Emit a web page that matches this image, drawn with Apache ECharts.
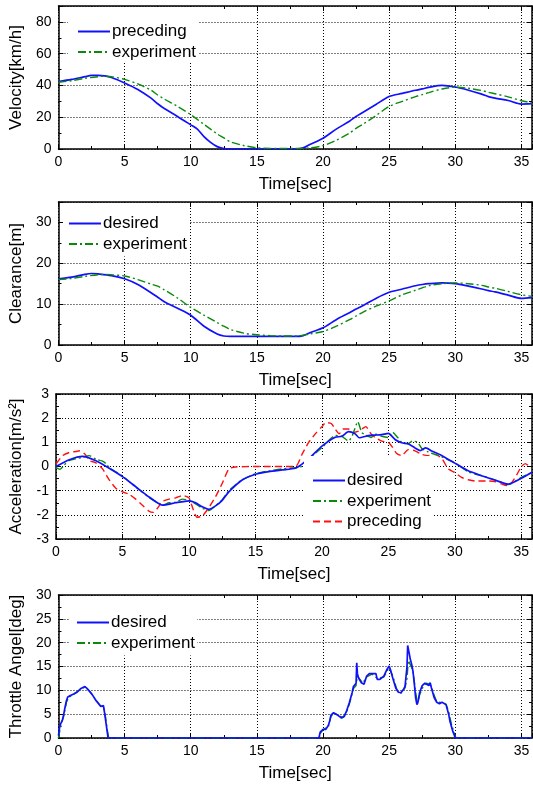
<!DOCTYPE html>
<html>
<head>
<meta charset="utf-8">
<script src="https://cdn.jsdelivr.net/npm/echarts@6/dist/echarts.min.js"></script>
<style>
html,body{margin:0;padding:0;background:#fff;}
#chart{width:533px;height:787px;}
</style>
</head>
<body>
<div id="chart"></div>
<script>
// ---------- Panel 1: Velocity [km/h] ----------
const velPrecT = [0,1,2,2.5,3,3.5,4,5,6,7,7.5,8,9,10,10.5,11,11.5,12,12.5,13,18,18.5,19,20,21,22,22.5,23,24,25,26,27,27.5,28,29,30,31,32,32.5,33,34,35,35.8];
const velPrecV = [42.5,43.8,45.5,46.3,46.4,46,45,41.6,37.5,32,28.5,25.5,20.5,15.2,12.5,7.8,4.2,1.5,0.3,0,0,0.7,2.8,6.8,12.5,17.5,20.5,23,28,33,35,37,37.8,38.8,40,39,37,34.5,33,32,30.5,28.3,28.5];
const velExpT = [0,1,2,3,3.5,4,5,6,7,7.5,8,9,10,11,12,12.5,13,14,15,16,17,18,19,20,21,22,22.5,23,24,25,26,27,27.5,28,29,30,31,32,32.5,33,34,35,35.8];
const velExpV = [42,43,44.5,45.5,45.8,45.5,43.8,41,37,34,31.5,26.8,21.6,15.5,9.5,7,4.5,2.2,0.8,0.4,0.3,0.3,0.7,2.1,5.5,10,13,15.5,21,26.8,30,33,34.2,35.5,37.8,38.9,38.2,36.8,35.7,34.8,32.8,30.4,29];

// ---------- Panel 2: Clearance [m] ----------
const clrDesT = [0,1,2,2.5,3,4,5,6,7,7.5,8,9,10,11,12,12.5,13,18,18.5,19,20,21,22,22.5,23,24,25,26,27,27.5,28,29,30,31,32,32.5,33,34,35,35.8];
const clrDesV = [16.2,16.6,17.3,17.5,17.4,17,16.2,14.8,12.8,11.7,10.6,9,7.3,4.6,2.7,2.2,2.1,2.1,2.3,3,4.2,6.2,7.9,8.8,9.6,11.4,12.9,13.7,14.5,14.8,15,15.2,15,14.4,13.7,13.3,13,12.2,11.4,11.6];
const clrExpT = [0,1,2,3,3.5,4,5,6,7,7.5,8,9,10,11,12,12.5,13,14,15,16,17,17.5,18,19,20,21,22,22.5,23,24,25,26,27,27.5,28,29,30,31,32,32.5,33,34,35,35.8];
const clrExpV = [16,16.3,16.8,17.2,17.3,17.2,16.9,16,14.9,14.4,13.5,11.5,9.2,7.3,5.5,4.6,3.8,2.9,2.5,2.3,2.2,2.2,2.2,2.7,3.3,4.6,6.2,7.1,8,9.5,10.8,12.3,13.4,14,14.5,15,15.2,15,14.6,14.2,13.9,13.1,12.3,11.9];

// ---------- Panel 3: Acceleration [m/s^2] ----------
const accDesT = [0,1,2,3,4,5,6,7,8,9,10,10.5,11,11.5,12,12.5,13,14,15,16,17,18,18.5,19.2,20,21,21.5,22,22.5,22.8,23.5,24,24.5,25,25.5,26,26.5,27,27.4,27.8,28.3,29,30,31,32,33,34,34.5,35,35.8];
const accDesV = [0,0.28,0.42,0.24,-0.07,-0.42,-0.84,-1.26,-1.6,-1.5,-1.42,-1.5,-1.67,-1.77,-1.63,-1.4,-1.05,-0.56,-0.32,-0.21,-0.14,-0.07,0.1,0.42,0.84,1.21,1.25,1.44,1.35,1.19,1.28,1.3,1.32,1.37,1.12,0.98,0.93,0.77,0.66,0.77,0.63,0.46,0.14,-0.18,-0.38,-0.56,-0.73,-0.63,-0.49,-0.24];
const accExpT = [0,0.3,0.6,1,2,2.5,3,3.5,3.8,4,5,6,7,7.5,8,8.5,9,9.5,10,10.5,11,11.5,12,12.5,13,14,15,16,17,18,18.5,19,20,21,21.5,22,22.3,22.7,23,23.3,23.7,24,24.5,25,25.3,25.7,26,26.5,26.8,27.2,27.5,28,28.5,29,30,31,32,33,34,35,35.8];
const accExpV = [-0.05,-0.12,0.05,0.25,0.38,0.45,0.3,0.22,0.1,-0.05,-0.4,-0.85,-1.28,-1.45,-1.6,-1.5,-1.48,-1.35,-1.4,-1.55,-1.72,-1.82,-1.62,-1.38,-1,-0.55,-0.3,-0.18,-0.1,-0.05,0,0.3,0.78,1.28,1.25,1.05,1.3,1.85,1.4,1.3,1.2,1.35,1.25,1.2,1.42,1.2,1,0.95,1.05,1,0.75,0.6,0.5,0.4,0.15,-0.22,-0.38,-0.55,-0.75,-0.45,-0.25];
const accPreT = [0,0.5,1,1.5,1.8,2.2,2.5,3,3.5,4,4.5,5,5.5,6,6.5,7,7.3,7.6,8,8.5,9,9.5,10,10.3,10.6,11,11.5,12,12.5,13,13.5,15,18,18.5,19,19.5,20,20.3,20.7,21,21.3,21.6,22,22.3,22.7,23,23.3,23.7,24,24.5,25,25.3,25.6,26,26.5,27,27.5,28,28.5,29,29.5,30,30.5,31,31.5,32.5,33,33.5,34,34.3,34.7,35,35.3,35.5];
const accPreV = [0.1,0.45,0.58,0.62,0.65,0.5,0.25,0.15,-0.1,-0.55,-0.9,-1.05,-1.15,-1.35,-1.6,-1.85,-1.9,-1.75,-1.45,-1.35,-1.3,-1.2,-1.3,-1.75,-2.1,-2.05,-1.7,-1.25,-0.7,-0.1,-0.02,0,0,0.5,1,1.35,1.65,1.82,1.78,1.55,1.35,1.55,1.55,1.4,1.45,1.55,1.65,1.35,1.2,1.05,1,0.8,0.55,0.45,0.7,0.65,0.5,0.45,0.5,0.35,-0.1,-0.25,-0.45,-0.55,-0.6,-0.6,-0.62,-0.72,-0.8,-0.65,-0.3,0,0.12,0.05];

// ---------- Panel 4: Throttle Angle [deg] ----------
const thrDesT = [0,0.1,0.2,0.3,0.4,0.5,0.6,0.7,0.8,0.9,1.0,1.2,1.4,1.5,1.7,1.8,2.0,2.2,2.4,2.6,2.8,3.0,3.1,3.2,3.3,3.4,3.5,3.6,3.7,3.75,19.7,19.75,19.8,20.0,20.2,20.4,20.5,20.6,20.7,20.8,21.0,21.2,21.4,21.6,21.8,22.0,22.1,22.2,22.3,22.4,22.5,22.55,22.6,22.7,22.9,23.1,23.3,23.5,23.7,24.0,24.1,24.3,24.6,24.8,25.0,25.1,25.3,25.5,25.7,25.9,26.1,26.2,26.3,26.35,26.4,26.5,26.6,26.7,26.8,26.9,27.0,27.1,27.2,27.3,27.5,27.6,27.7,27.8,28.0,28.1,28.2,28.3,28.4,28.6,28.8,29.0,29.1,29.3,29.4,29.5,29.6,29.7,29.8,29.9,30.0,35.8];
const thrDesV = [0.5,2.5,3.2,3.8,5,6.5,7.8,8.6,8.4,8.9,9,9.3,9.6,10,10.4,10.8,10.8,10.3,9.6,8.9,8,7.3,7,6.6,6.5,6.8,5,3,1,0,0,0.8,1.3,1.8,1.8,2.6,3.5,4.8,5.2,5.3,5,4.6,4.2,4.5,5.8,7.5,8.5,9.5,10.8,10.4,11.5,15.8,13.5,12.5,11.6,11.3,13,13.5,13.5,13.5,12.3,12.3,13,14.2,15.1,14.3,12.3,10.5,9.6,9.5,10.3,10.8,11,15,19.4,18,16.5,15.5,14,11.5,8.5,7,7.8,9.5,11,10.8,11.5,11.8,11,11.6,10.5,9.5,8.5,7.5,7.2,7.5,7.6,7,6,5,3.5,2.5,1.5,0.8,0,0];
const thrExpT = [0,0.1,0.2,0.4,0.6,0.8,1.0,1.5,2.0,2.4,2.8,3.2,3.4,3.5,3.6,3.7,3.8,19.7,19.8,20.0,20.4,20.6,20.8,21.2,21.5,21.8,22.0,22.3,22.5,22.6,22.7,23.0,23.3,23.7,24.1,24.6,25.0,25.3,25.6,25.9,26.2,26.35,26.45,26.6,26.8,27.0,27.15,27.3,27.6,27.8,28.1,28.3,28.6,29.0,29.3,29.5,29.7,29.9,30.05,35.8];
const thrExpV = [0,1.5,2.8,4.6,7.5,8.6,8.9,9.9,10.7,9.7,8.1,6.7,6.6,5.5,3.5,1.5,0,0,1,1.7,2.4,4.5,5.2,4.7,4.3,5.5,7.2,10.4,11,13,12.6,11.5,12.8,13.4,12.5,12.8,14.8,12.8,10,9.4,10.5,12.5,16.3,16,14.2,9.5,7.2,9,11,11.5,11.3,9.7,7.6,7.4,7.1,5.5,3,1.2,0,0];

// ---------- Axis setup ----------
const xMin = 0, xMax = 35.8, xStep = 5;
const yNames = ['Velocity[km/h]', 'Clearance[m]', 'Acceleration[m/s²]', 'Throttle Angel[deg]'];
const yMins = [0, 0, -3, 0];
const yMaxs = [90, 35, 3, 30];
const ySteps = [20, 10, 1, 5];

const BLUE = '#1010ff', GREEN = '#0a8a0a', RED = '#ff1010';
const FONT = 'Liberation Sans, Arial, sans-serif';
const zip = (t, v) => t.map((x, i) => [x, v[i]]);

const grids = [
  {left: 53, top: 6, width: 479, height: 143},
  {left: 53, top: 202, width: 479, height: 143},
  {left: 53, top: 394, width: 479, height: 145},
  {left: 53, top: 595, width: 479, height: 143}
];

const xAxes = [], yAxes = [];
grids.forEach((g, i) => {
  [true, false].forEach(main => {
    xAxes.push({
      type: 'value', gridIndex: i, position: main ? 'bottom' : 'top',
      min: xMin, max: xMax, interval: xStep,
      axisLine: {show: true, onZero: false, lineStyle: {color: '#000', width: 1.5}},
      axisTick: {show: true, inside: true, length: 5, lineStyle: {color: '#000', width: 1}},
      minorTick: {show: true, splitNumber: 2, length: 3, lineStyle: {color: '#000', width: 1}},
      axisLabel: {show: main, color: '#000', fontSize: 14, fontFamily: FONT, margin: 6, showMaxLabel: false},
      splitLine: {show: main, lineStyle: {color: '#000', width: 1, type: [1, 2]}},
      name: main ? 'Time[sec]' : '', nameLocation: 'middle', nameGap: 27,
      nameTextStyle: {color: '#000', fontSize: 17, fontFamily: FONT}
    });
    yAxes.push({
      type: 'value', gridIndex: i, position: main ? 'left' : 'right',
      min: yMins[i], max: yMaxs[i], interval: ySteps[i],
      axisLine: {show: true, onZero: false, lineStyle: {color: '#000', width: 1.5}},
      axisTick: {show: true, inside: true, length: 5, lineStyle: {color: '#000', width: 1}},
      minorTick: {show: true, splitNumber: 2, length: 3, lineStyle: {color: '#000', width: 1}},
      axisLabel: {show: main, color: '#000', fontSize: 14, fontFamily: FONT, margin: 7, showMaxLabel: yMaxs[i] % ySteps[i] === 0},
      splitLine: {show: main, lineStyle: {color: '#000', width: 1, type: [1, 2]}},
      name: main ? yNames[i] : '', nameLocation: 'middle', nameGap: 31,
      nameTextStyle: {color: '#000', fontSize: 17, fontFamily: FONT}
    });
  });
});

function line(id, panel, data, color, type, width, smooth) {
  return {
    name: id, type: 'line', xAxisIndex: panel * 2, yAxisIndex: panel * 2,
    data: data, showSymbol: false, symbol: 'none', smooth: smooth,
    lineStyle: {color: color, width: width, type: type},
    itemStyle: {color: color}, animation: false
  };
}

const DASHDOT = [8, 3, 2, 3];
const DASH = [7, 4];

const series = [
  line('1|preceding', 0, zip(velPrecT, velPrecV), BLUE, 'solid', 1.7, 0.3),
  line('1|experiment', 0, zip(velExpT, velExpV), GREEN, DASHDOT, 1.4, 0.3),
  line('2|desired', 1, zip(clrDesT, clrDesV), BLUE, 'solid', 1.7, 0.3),
  line('2|experiment', 1, zip(clrExpT, clrExpV), GREEN, DASHDOT, 1.4, 0.3),
  line('3|preceding', 2, zip(accPreT, accPreV), RED, DASH, 1.4, 0.2),
  line('3|experiment', 2, zip(accExpT, accExpV), GREEN, DASHDOT, 1.4, 0.2),
  line('3|desired', 2, zip(accDesT, accDesV), BLUE, 'solid', 1.7, 0.2),
  line('4|experiment', 3, zip(thrExpT, thrExpV), GREEN, DASHDOT, 1.4, false),
  line('4|desired', 3, zip(thrDesT, thrDesV), BLUE, 'solid', 1.7, false)
];

function legend(names, left, top, padding) {
  return {
    data: names, orient: 'vertical', left: left, top: top, padding: padding,
    itemWidth: 32, itemHeight: 14, itemGap: 3.5,
    backgroundColor: '#fff', selectedMode: false,
    itemStyle: {opacity: 0, color: 'transparent', borderWidth: 0},
    formatter: n => n.split('|')[1],
    textStyle: {color: '#000', fontSize: 17, fontFamily: FONT, padding: [0, 0, 0, -3]}
  };
}

const option = {
  animation: false,
  backgroundColor: '#fff',
  textStyle: {fontFamily: FONT},
  grid: grids,
  xAxis: xAxes,
  yAxis: yAxes,
  legend: [
    legend(['1|preceding', '1|experiment'], 68, 7, [16, 2, 2, 9]),
    legend(['2|desired', '2|experiment'], 63, 203, [12, 2, 4, 5]),
    legend(['3|desired', '3|experiment', '3|preceding'], 304, 456, [16, 2, 8, 8]),
    legend(['4|desired', '4|experiment'], 70, 596, [18, 2, 4, 6])
  ],
  series: series
};

const chart = echarts.init(document.getElementById('chart'), null, {renderer: 'canvas'});
chart.setOption(option);
</script>
</body>
</html>
